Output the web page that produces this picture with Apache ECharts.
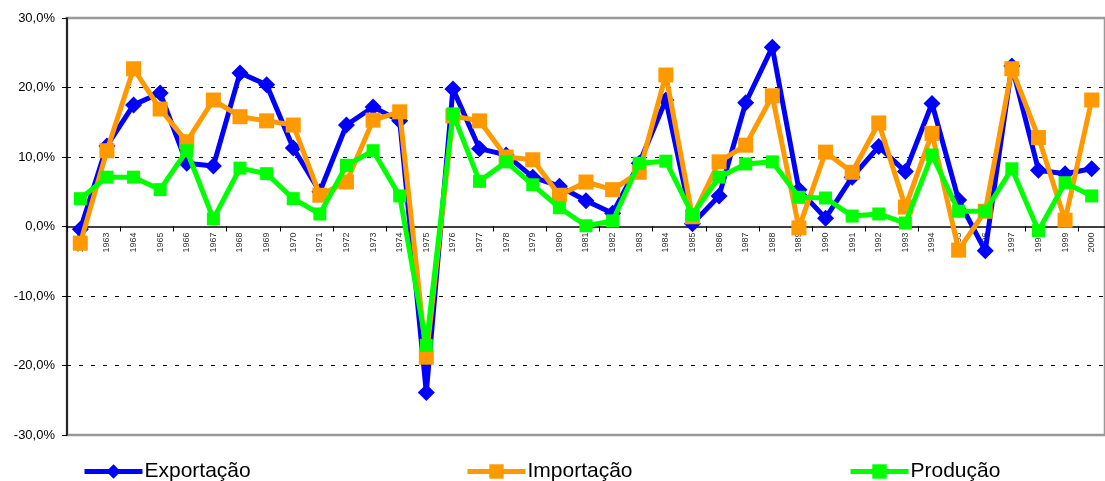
<!DOCTYPE html>
<html>
<head>
<meta charset="utf-8">
<script src="https://cdn.jsdelivr.net/npm/echarts@6/dist/echarts.min.js"></script>
<style>
  html, body { margin: 0; padding: 0; background: #fff; }
  #chart { width: 1105px; height: 481px; }
</style>
</head>
<body>
<div id="chart"></div>
<script>
// Annual growth rates (%), 1962–2000
const years = [
  '1962','1963','1964','1965','1966','1967','1968','1969','1970','1971',
  '1972','1973','1974','1975','1976','1977','1978','1979','1980','1981',
  '1982','1983','1984','1985','1986','1987','1988','1989','1990','1991',
  '1992','1993','1994','1995','1996','1997','1998','1999','2000'
];

const exportacao = [
  -0.4, 11.6, 17.5, 19.2, 9.1, 8.7, 22.1, 20.4, 11.3, 5.0,
  14.6, 17.2, 15.2, -23.9, 19.8, 11.2, 10.3, 7.1, 5.8, 3.7,
  1.9, 9.1, 18.2, 0.4, 4.4, 17.8, 25.8, 5.3, 1.2, 7.1,
  11.5, 7.9, 17.7, 3.8, -3.5, 23.1, 8.1, 7.6, 8.3
];

const importacao = [
  -2.4, 10.9, 22.7, 16.9, 12.2, 18.2, 15.8, 15.2, 14.6, 4.5,
  6.4, 15.3, 16.5, -18.8, 15.9, 15.2, 10.0, 9.6, 4.5, 6.4,
  5.3, 7.8, 21.8, 1.4, 9.3, 11.7, 18.8, -0.2, 10.7, 7.8,
  14.9, 2.8, 13.4, -3.4, 2.2, 22.7, 12.8, 0.9, 18.2
];

const producao = [
  4.0, 7.1, 7.1, 5.3, 10.9, 1.1, 8.4, 7.6, 4.0, 1.8,
  8.8, 10.9, 4.4, -17.1, 16.2, 6.5, 9.3, 6.0, 2.7, 0.1,
  0.8, 9.1, 9.4, 1.7, 7.1, 9.0, 9.3, 4.2, 4.1, 1.5,
  1.8, 0.5, 10.3, 2.2, 2.2, 8.3, -0.6, 6.3, 4.4
];

const yTicks = { min: -30, max: 30, step: 10 };

const pct = v => v.toFixed(1).replace('.', ',') + '%';

const FONT = 'Liberation Sans, Arial, sans-serif';

const chart = echarts.init(document.getElementById('chart'), null, { renderer: 'canvas' });

const gridTop = 18, gridBottom = 46, chartH = 481;
const plotH = chartH - gridTop - gridBottom;
// distance from the bottom of the plot up to the zero line
const zeroLift = plotH * (0 - yTicks.min) / (yTicks.max - yTicks.min);

function lineSeries(name, data, color, symbol, size, z) {
  return {
    name: name,
    type: 'line',
    xAxisIndex: 0,
    z: z,
    data: data,
    symbol: symbol,
    symbolSize: size,
    lineStyle: { color: color, width: 5 },
    itemStyle: { color: color },
    emphasis: { disabled: true },
    animation: false
  };
}

function legendAt(name, left) {
  return {
    data: [name],
    left: left,
    top: 456,
    padding: 5,
    itemWidth: 58,
    itemHeight: 18,
    itemGap: 4,
    lineStyle: { width: 5 },
    textStyle: { fontFamily: FONT, fontSize: 21, color: '#000', padding: [0, 0, 0, -3] },
    selectedMode: false
  };
}

chart.setOption({
  backgroundColor: '#fff',
  animation: false,
  grid: {
    left: 67, right: -3, top: gridTop, bottom: gridBottom,
    show: true,
    borderColor: '#999',
    borderWidth: 2.5,
    backgroundColor: 'transparent'
  },
  legend: [
    legendAt('Exportação', 77),
    legendAt('Importação', 460),
    legendAt('Produção', 843)
  ],
  xAxis: [
    {
      type: 'category',
      data: years,
      boundaryGap: true,
      axisLine: { onZero: true, lineStyle: { color: '#000', width: 1.5 } },
      axisTick: { show: true, length: 5, lineStyle: { color: '#000' } },
      axisLabel: { show: false },
      splitLine: { show: false }
    },
    {
      // year labels placed just under the zero line
      type: 'category',
      data: years,
      position: 'bottom',
      offset: -zeroLift,
      z: 0,
      boundaryGap: true,
      axisLine: { show: false },
      axisTick: { show: false },
      axisLabel: {
        rotate: 90,
        interval: 0,
        fontSize: 9,
        color: '#333',
        fontFamily: FONT,
        margin: 6
      },
      splitLine: { show: false }
    }
  ],
  yAxis: {
    type: 'value',
    min: yTicks.min,
    max: yTicks.max,
    interval: yTicks.step,
    axisLine: { show: true, lineStyle: { color: '#000', width: 1.5 } },
    axisTick: { show: true, length: 5, lineStyle: { color: '#000' } },
    axisLabel: {
      formatter: pct,
      fontSize: 13,
      color: '#000',
      fontFamily: FONT,
      margin: 12
    },
    splitLine: {
      show: true,
      lineStyle: {
        color: ['rgba(0,0,0,0)', '#000', '#000', 'rgba(0,0,0,0)', '#000', '#000', 'rgba(0,0,0,0)'],
        type: [4, 8],
        width: 1
      }
    }
  },
  series: [
    lineSeries('Exportação', exportacao, '#0000ff', 'diamond', 17, 3),
    lineSeries('Importação', importacao, '#ff9900', 'rect', 15, 4),
    lineSeries('Produção', producao, '#00ff00', 'rect', 13, 5)
  ]
});
</script>
</body>
</html>
